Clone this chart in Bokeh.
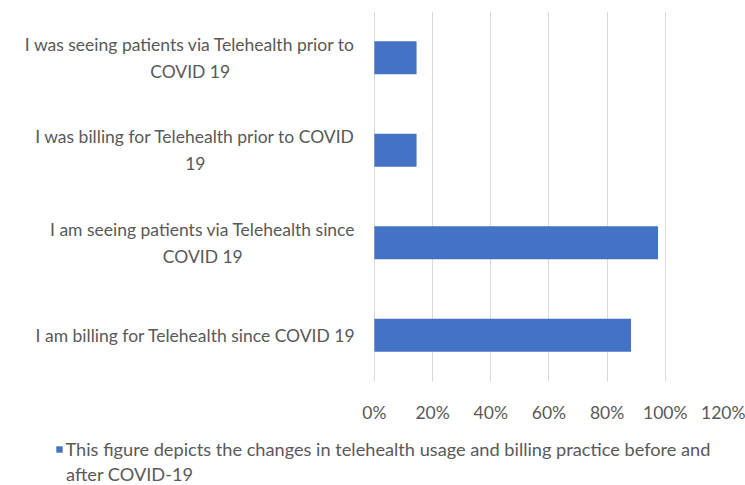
from bokeh.plotting import figure
from bokeh.layouts import column, row
from bokeh.core.properties import value
from bokeh.models import (FactorRange, Range1d, FixedTicker, NumeralTickFormatter,
                          Legend, LegendItem, ColumnDataSource)
from bokeh.embed import file_html
from bokeh.resources import INLINE

# ---- data ----
categories = [
    "I am billing for Telehealth since COVID 19",
    "I am seeing patients via Telehealth since\nCOVID 19",
    "I was billing for Telehealth prior to COVID\n19",
    "I was seeing patients via Telehealth prior to\nCOVID 19",
]
values = [0.882, 0.975, 0.145, 0.145]
x_ticks = [0, 0.2, 0.4, 0.6, 0.8, 1.0, 1.2]
series_name_lines = [
    "This figure depicts the changes in telehealth usage and billing practice before and",
    "after COVID-19",
]

FONT = "Lato"
FS = "17.5px"
FS_LEG = "18.2px"
TEXT_COLOR = "#595959"
BAR_COLOR = "#4472C4"

source = ColumnDataSource(data=dict(cat=categories, val=values))
y_range = FactorRange(*categories)

TOP, BOTTOM, H1 = 11, 38, 425
W_LAB, W_MAIN, H_LEG = 360, 385, 60

# ---- main chart ----
p = figure(width=W_MAIN, height=H1, y_range=y_range, x_range=Range1d(-0.003, 1.2),
           title=None, toolbar_location=None, output_backend="svg",
           min_border_left=13, min_border_right=22,
           min_border_top=TOP, min_border_bottom=BOTTOM)
p.outline_line_color = None
p.yaxis.visible = False

r = p.hbar(y="cat", right="val", left=0, height=0.355, source=source,
           fill_color=BAR_COLOR, line_color=None)

p.xaxis.ticker = FixedTicker(ticks=x_ticks)
p.xaxis.formatter = NumeralTickFormatter(format="0%")
p.xaxis.axis_line_color = None
p.xaxis.major_tick_line_color = None
p.xaxis.minor_tick_line_color = None
p.xaxis.major_label_text_font = FONT
p.xaxis.major_label_text_font_size = FS
p.xaxis.major_label_text_color = TEXT_COLOR
p.xaxis.major_label_standoff = 14

p.xgrid.grid_line_color = "#d9d9d9"
p.xgrid.grid_line_width = 1
p.ygrid.grid_line_color = None

# ---- category labels (centered multi-line, right-anchored) ----
lab = figure(width=W_LAB, height=H1, y_range=y_range, x_range=Range1d(0, 1),
             title=None, toolbar_location=None, output_backend="svg",
             x_axis_type=None, y_axis_type=None,
             min_border_left=0, min_border_right=0,
             min_border_top=TOP, min_border_bottom=BOTTOM)
lab.outline_line_color = None
lab.grid.visible = False
lab.text(x=1, y="cat", text="cat", source=source, x_offset=-5,
         anchor="center_right", text_align="center", text_baseline="middle",
         text_font=value(FONT), text_font_size=FS, text_color=TEXT_COLOR,
         text_line_height=1.3)

# ---- legend strip ----
leg = figure(width=W_LAB + W_MAIN, height=H_LEG,
             x_range=Range1d(0, W_LAB + W_MAIN), y_range=Range1d(0, H_LEG),
             title=None, toolbar_location=None, output_backend="svg",
             x_axis_type=None, y_axis_type=None,
             min_border_left=0, min_border_right=0, min_border_top=0, min_border_bottom=0)
leg.outline_line_color = None
leg.grid.visible = False
lr = leg.hbar(y="cat", right="val", left=0, height=0.355, source=source,
              fill_color=BAR_COLOR, line_color=None, visible=False)
legend = Legend(items=[LegendItem(label=series_name_lines[0], renderers=[lr])],
                location=(54.5, 25), orientation="horizontal",
                glyph_width=8, glyph_height=8, label_standoff=3,
                padding=0, margin=0, spacing=0,
                border_line_color=None, background_fill_alpha=0,
                inactive_fill_alpha=0,
                label_text_font=FONT, label_text_font_size=FS_LEG,
                label_text_color=TEXT_COLOR)
leg.add_layout(legend, "center")
leg.text(x=[65.5], y=[12], text=[series_name_lines[1]], text_baseline="middle",
         text_align="left", text_font=value(FONT), text_font_size=FS_LEG,
         text_color=TEXT_COLOR)

layout = column(row(lab, p, spacing=0), leg, spacing=0)
open("out.html", "w").write(file_html(layout, INLINE))
